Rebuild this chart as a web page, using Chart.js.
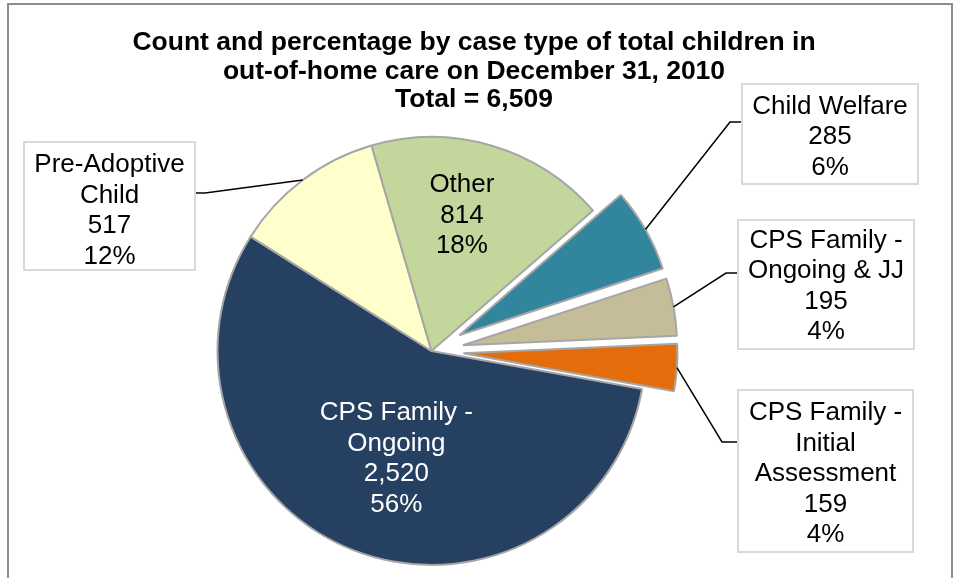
<!DOCTYPE html>
<html>
<head>
<meta charset="utf-8">
<title>Children in out-of-home care by case type</title>
<script src="https://cdn.jsdelivr.net/npm/chart.js@4.4.1/dist/chart.umd.min.js"></script>
<style>
  body { margin: 0; background: #fff; }
  canvas { display: block; }
</style>
</head>
<body>
<canvas id="myChart" width="958" height="578"></canvas>
<script>
// data, clockwise from the Child Welfare slice
const categories = [
  ['Child Welfare'],
  ['CPS Family -', 'Ongoing & JJ'],
  ['CPS Family -', 'Initial', 'Assessment'],
  ['CPS Family -', 'Ongoing'],
  ['Pre-Adoptive', 'Child'],
  ['Other']
];
const counts = [285, 195, 159, 2520, 517, 814];
const titleLines = [
  'Count and percentage by case type of total children in',
  'out-of-home care on December 31, 2010',
  'Total = 6,509'
];

// styling
const colors = ['#31859c', '#c4bd97', '#e46c0a', '#254061', '#ffffcc', '#c3d69b'];
const explode = [32, 32, 32, 0, 0, 0];
const FONT = '"Liberation Sans", Arial, sans-serif';

// label placement: boxed labels sit outside with a leader line, others inside the slice
const labelLayout = [
  { box: [742, 84, 176, 100], elbow: [730, 122], dy: 3 },
  { box: [738, 220, 176, 129], elbow: [726, 273], dy: 2 },
  { box: [738, 390, 175, 162], elbow: [722, 442], dy: 3 },
  { inside: 0.53, nudge: [6, 2], color: '#ffffff' },
  { box: [24, 142, 171, 128], elbow: [205, 193], dy: 5 },
  { inside: 0.67, nudge: [-10, 2], color: '#000000' }
];

const total = counts.reduce((a, b) => a + b, 0);

function drawLines(ctx, lines, x, y, color) {
  const lh = 30.5;
  ctx.fillStyle = color;
  ctx.font = '26px ' + FONT;
  ctx.textAlign = 'center';
  ctx.textBaseline = 'middle';
  const top = y - (lines.length - 1) * lh / 2;
  lines.forEach((t, k) => ctx.fillText(t, x, top + k * lh));
}

const pieDecor = {
  id: 'pieDecor',
  beforeDraw(chart) {
    const ctx = chart.ctx;
    ctx.save();
    ctx.strokeStyle = '#8c8c8c';
    ctx.lineWidth = 2;
    ctx.strokeRect(8, 4, 944, 600);
    // title
    ctx.fillStyle = '#000';
    ctx.font = 'bold 26.5px ' + FONT;
    ctx.textAlign = 'center';
    ctx.textBaseline = 'middle';
    titleLines.forEach((t, k) => ctx.fillText(t, 474, 43 + k * 28.5));
    ctx.restore();
  },
  // draw each slice pulled out along its middle angle (exploded pie)
  beforeDatasetDraw(chart, args) {
    const ctx = chart.ctx;
    args.meta.data.forEach((arc, i) => {
      const mid = (arc.startAngle + arc.endAngle) / 2;
      ctx.save();
      ctx.translate(Math.cos(mid) * explode[i], Math.sin(mid) * explode[i]);
      arc.draw(ctx);
      ctx.restore();
    });
    return false;
  },
  afterDatasetsDraw(chart) {
    const ctx = chart.ctx;
    const meta = chart.getDatasetMeta(0);
    ctx.save();
    meta.data.forEach((arc, i) => {
      const mid = (arc.startAngle + arc.endAngle) / 2;
      const cx = arc.x + Math.cos(mid) * explode[i];
      const cy = arc.y + Math.sin(mid) * explode[i];
      const lines = categories[i].concat([
        counts[i].toLocaleString('en-US'),
        Math.round(counts[i] / total * 100) + '%'
      ]);
      const L = labelLayout[i];
      if (L.box) {
        const [bx, by, bw, bh] = L.box;
        const ax = cx + Math.cos(mid) * arc.outerRadius;
        const ay = cy + Math.sin(mid) * arc.outerRadius;
        const edgeX = L.elbow[0] < bx ? bx : bx + bw;
        ctx.strokeStyle = '#000';
        ctx.lineWidth = 1.5;
        ctx.beginPath();
        ctx.moveTo(ax, ay);
        ctx.lineTo(L.elbow[0], L.elbow[1]);
        ctx.lineTo(edgeX, L.elbow[1]);
        ctx.stroke();
        ctx.fillStyle = '#fff';
        ctx.fillRect(bx, by, bw, bh);
        ctx.strokeStyle = '#d9d9d9';
        ctx.lineWidth = 2;
        ctx.strokeRect(bx, by, bw, bh);
        drawLines(ctx, lines, bx + bw / 2, by + bh / 2 + L.dy, '#000');
      } else {
        const r = arc.outerRadius * L.inside;
        drawLines(ctx, lines,
          cx + Math.cos(mid) * r + L.nudge[0],
          cy + Math.sin(mid) * r + L.nudge[1], L.color);
      }
    });
    ctx.restore();
  }
};

new Chart(document.getElementById('myChart'), {
  type: 'pie',
  data: {
    labels: categories,
    datasets: [{
      data: counts,
      backgroundColor: colors,
      borderColor: '#a6a6a6',
      borderWidth: 2,
      clip: false
    }]
  },
  options: {
    responsive: false,
    animation: false,
    events: [],
    rotation: 49,
    radius: 214,
    layout: { padding: { left: 0, right: 95, top: 138, bottom: 14 } },
    plugins: {
      legend: { display: false },
      tooltip: { enabled: false },
      title: { display: false }
    }
  },
  plugins: [pieDecor]
});
</script>
</body>
</html>
